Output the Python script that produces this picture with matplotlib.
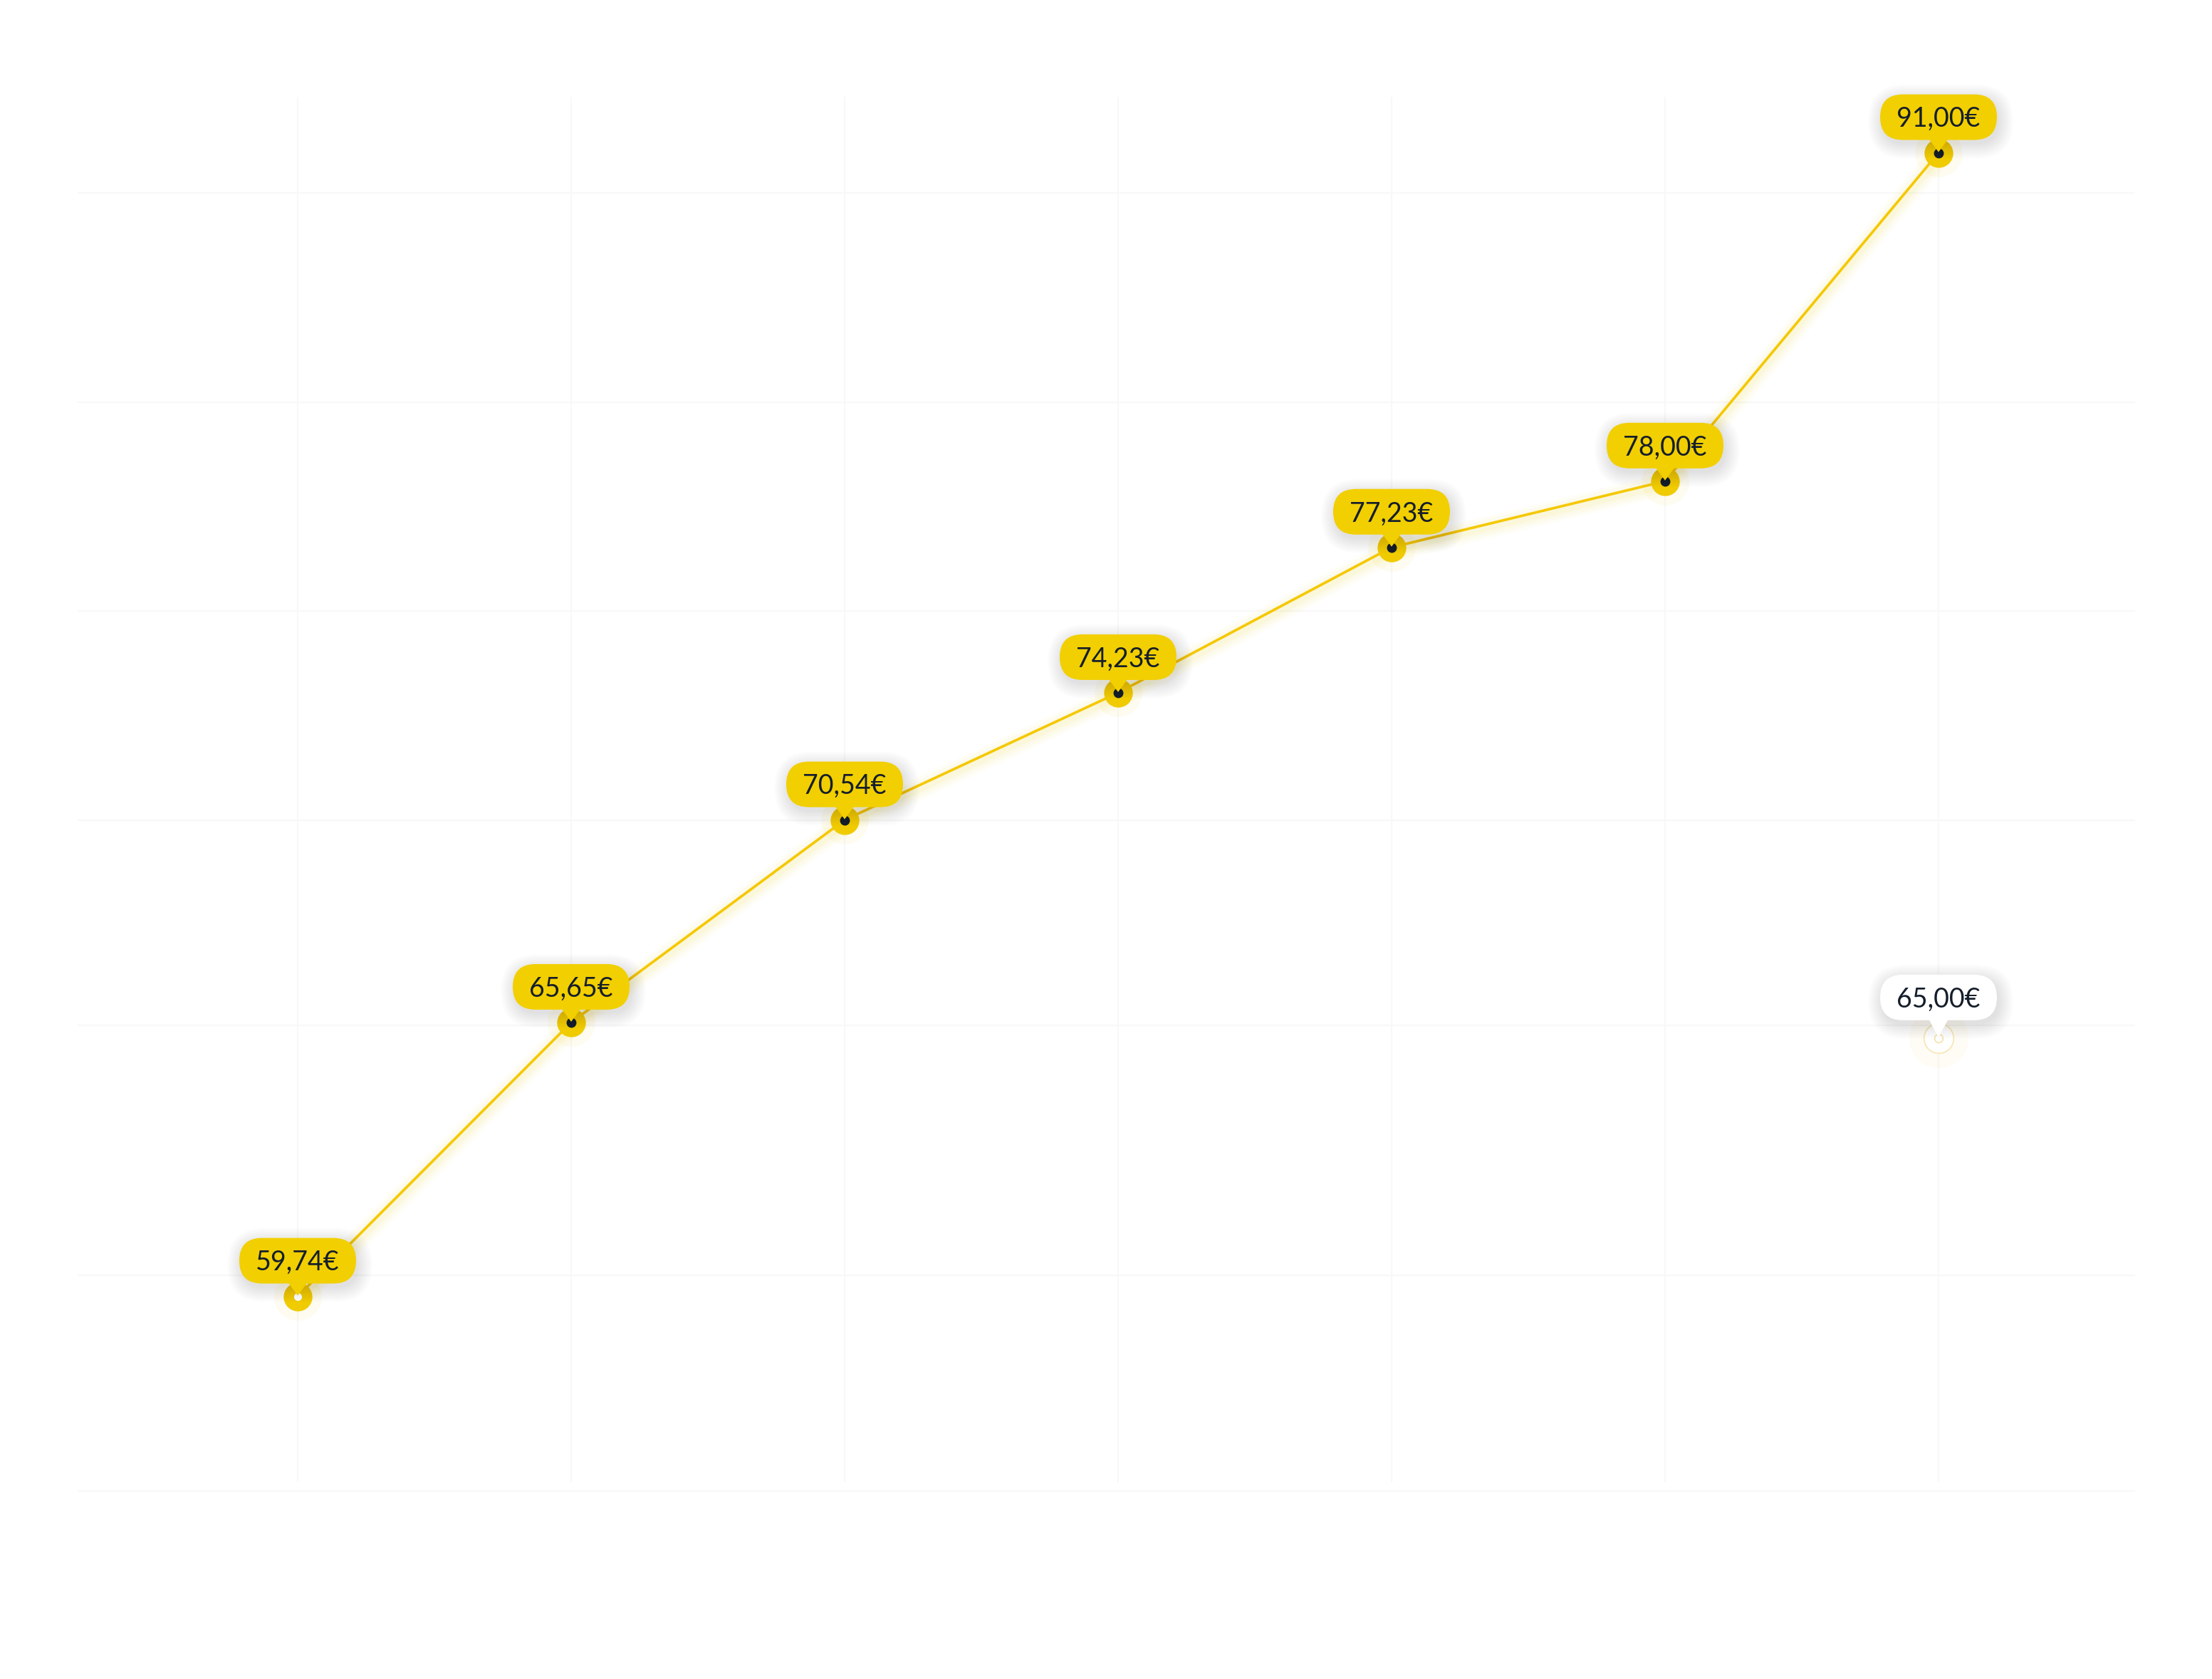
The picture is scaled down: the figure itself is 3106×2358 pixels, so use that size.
#IMPORTS
import matplotlib
matplotlib.use('Agg')
import matplotlib.pyplot as plt
import matplotlib.patheffects as pe
from matplotlib.patches import FancyBboxPatch, Polygon
from matplotlib.transforms import IdentityTransform

#DATA
#x position (category index) of each price point
categories = [0, 1, 2, 3, 4, 5, 6]
#vertical level of each point on the chart scale (bottom grid line = 0, top grid line = 100)
levels = [15.0, 36.1, 51.7, 61.5, 72.7, 77.8, 103.1]
price_labels = ['59,74€', '65,65€', '70,54€', '74,23€', '77,23€', '78,00€', '91,00€']

#separate white reference point
target_category = 6
target_level = 34.9
target_label = '65,00€'

#horizontal grid levels
grid_levels = [0, 16.6, 35.9, 51.7, 67.8, 83.9, 100]

#COLOURS
line_yellow = '#F5C800'
marker_yellow = '#F0CB00'
pill_yellow = '#F2CF00'
dark = '#151E2B'
grid_col = '#F8F8F8'

#FIGURE
W, H, DPI = 3106, 2358, 100
fig = plt.figure(figsize=(W / DPI, H / DPI), dpi=DPI)
fig.patch.set_facecolor('white')
ax = fig.add_axes([0, 0, 1, 1])
ax.set_xlim(-1.0885, 7.0)
ax.set_ylim(-14.48, 114.87)
ax.axis('off')

#grid
for c in categories:
    ax.plot([c, c], [0.66, 107.4], color=grid_col, lw=1.5, zorder=0, solid_capstyle='butt')
for g in grid_levels:
    ax.plot([-0.805, 6.719], [g, g], color=grid_col, lw=1.5, zorder=0, solid_capstyle='butt')

#line with a soft yellow glow
glow = [pe.Stroke(linewidth=w, foreground=line_yellow, alpha=0.035, offset=(1, -3))
        for w in (22, 16, 11, 7)]
ax.plot(categories, levels, color=line_yellow, lw=2.6, zorder=2,
        path_effects=glow + [pe.Normal()])

#markers
ax.scatter(categories, levels, s=(48) ** 2, color=line_yellow, alpha=0.06, lw=0, zorder=3)
ax.plot(categories, levels, 'o', ms=29, color=marker_yellow, mec='none', zorder=4)
ax.plot(categories[1:], levels[1:], 'o', ms=10, color=dark, mec='none', zorder=5)
ax.plot(categories[:1], levels[:1], 'o', ms=8, color='white', mec='none', zorder=5)

#white reference marker
ax.scatter([target_category], [target_level], s=60 ** 2, color=line_yellow, alpha=0.04, lw=0, zorder=3)
ax.plot([target_category], [target_level], 'o', ms=30, color='white', mec='#F7E6B0', mew=1.2, zorder=4)
ax.plot([target_category], [target_level], 'o', ms=8.5, color='white', mec='#F5E2A8', mew=1.2, zorder=5)


#LABEL PILLS
def draw_label(x, y, text, face, gap):
    px, py = ax.transData.transform((x, y))
    cy = py + gap
    w, h = 164, 64
    #soft shadow
    for i in range(10):
        s = i * 2.2
        sh = FancyBboxPatch((px - w / 2 - s + 3, cy - h / 2 - s - 6), w + 2 * s, h + 2 * s,
                            boxstyle='round,pad=0,rounding_size=%f' % (h / 2 + s),
                            transform=IdentityTransform(), fc='black', ec='none',
                            alpha=0.013, zorder=6, clip_on=False)
        ax.add_patch(sh)
    tri = Polygon([(px - 14, cy - h / 2 + 2), (px + 14, cy - h / 2 + 2), (px, py + 1)],
                  closed=True, transform=IdentityTransform(), fc=face, ec='none',
                  zorder=7, clip_on=False)
    ax.add_patch(tri)
    pill = FancyBboxPatch((px - w / 2, cy - h / 2), w, h,
                          boxstyle='round,pad=0,rounding_size=%f' % (h / 2),
                          transform=IdentityTransform(), fc=face, ec='none',
                          zorder=7, clip_on=False)
    ax.add_patch(pill)
    ax.text(px, cy - 13.5, text, transform=IdentityTransform(), ha='center', va='baseline',
            fontsize=27, family=['Lato', 'DejaVu Sans'], color=dark, zorder=8)


for c, lv, lab in zip(categories, levels, price_labels):
    draw_label(c, lv, lab, pill_yellow, 50)

draw_label(target_category, target_level, target_label, 'white', 57)

#SAVE
fig.savefig('out.png', dpi=DPI, facecolor='white')
plt.close()
